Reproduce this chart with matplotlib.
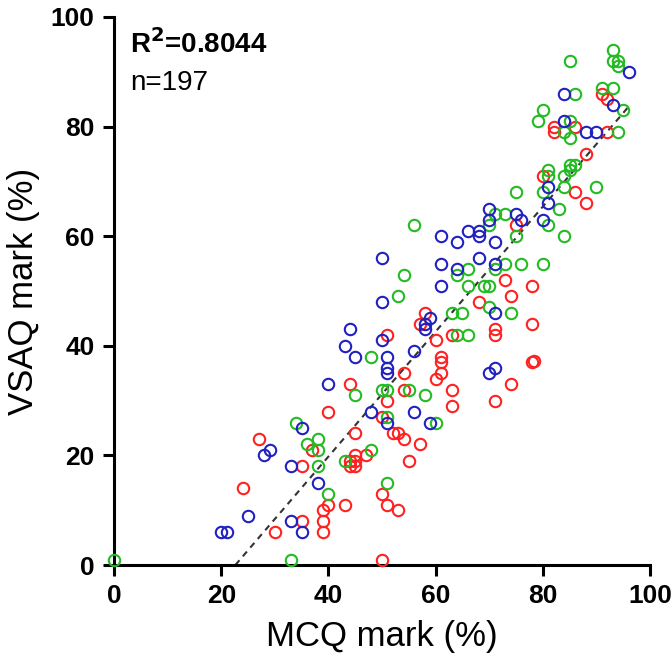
import numpy as np
import matplotlib
matplotlib.use("Agg")
from matplotlib import pyplot as plt

plt.rcParams['font.family'] = ['Liberation Sans', 'DejaVu Sans']

# MCQ mark (x) and VSAQ mark (y) for each group
blue_x = [20, 21, 25, 28, 29, 33, 33, 35, 35, 38, 40, 43, 44, 45, 48, 50, 50, 50, 51, 51,
          51, 51, 56, 56, 58, 58, 59, 59, 61, 61, 61, 64, 64, 66, 68, 68, 68, 70, 70, 70,
          71, 71, 71, 71, 75, 76, 80, 81, 81, 84, 84, 88, 90, 93, 96]
blue_y = [6, 6, 9, 20, 21, 18, 8, 6, 25, 15, 33, 40, 43, 38, 28, 56, 48, 41, 38, 36,
          35, 26, 39, 28, 43, 44, 45, 26, 60, 55, 51, 59, 54, 61, 61, 60, 56, 65, 63, 35,
          59, 55, 46, 36, 64, 63, 63, 69, 66, 86, 81, 79, 79, 84, 90]

red_x = [24, 27, 30, 35, 35, 37, 39, 39, 39, 40, 40, 43, 44, 44, 45, 44, 45, 45, 47, 45,
         50, 50, 50, 51, 51, 51, 52, 53, 53, 54, 54, 54, 55, 57, 57, 58, 60, 60, 61, 61,
         61, 63, 63, 63, 68, 71, 71, 71, 73, 74, 74, 75, 78, 78, 78, 78.3, 80, 82, 82, 86,
         86, 88, 88, 91, 92, 92]
red_y = [14, 23, 6, 18, 8, 21, 10, 8, 6, 28, 11, 11, 33, 19, 19, 18, 18, 20, 20, 24,
         27, 13, 1, 42, 30, 11, 24, 24, 10, 35, 32, 23, 19, 44, 22, 46, 41, 34, 38, 37,
         35, 42, 32, 29, 48, 43, 42, 30, 52, 49, 33, 62, 51, 44, 37, 37.3, 71, 80, 79, 80,
         68, 75, 66, 86, 85, 79]

green_x = [0, 33, 34, 36, 38, 38, 38, 40, 43, 45, 48, 48, 50, 51, 51, 51, 53, 54, 55, 56,
           58, 60, 63, 64, 64, 65, 66, 66, 66, 69, 70, 70, 70, 71, 71, 73, 73, 74, 75, 75,
           76, 79, 80, 80, 80, 81, 81, 81, 83, 84, 84, 84, 84, 85, 85, 85, 85, 85, 86, 86,
           90, 91, 93, 93, 93, 94, 94, 94, 95]
green_y = [1, 1, 26, 22, 23, 21, 18, 13, 19, 31, 38, 21, 32, 32, 27, 15, 49, 53, 32, 62,
           31, 26, 46, 53, 42, 46, 54, 51, 42, 51, 51, 62, 47, 64, 54, 64, 55, 46, 68, 60,
           55, 81, 83, 68, 55, 72, 71, 62, 65, 79, 71, 69, 60, 92, 81, 78, 73, 72, 86, 73,
           69, 87, 94, 92, 87, 92, 91, 79, 83]

# regression line as shown on the chart
fit_slope = 1.14
fit_intercept = -25.8

r2_text = "0.8044"
n_text = "197"

fig = plt.figure(figsize=(6.71, 6.63), dpi=100)
ax = fig.add_axes([0.170, 0.1478, 0.7988, 0.8266])

for xs, ys, col in [(red_x, red_y, '#ff2020'), (green_x, green_y, '#22bb22'), (blue_x, blue_y, '#2020c0')]:
    ax.plot(xs, ys, 'o', mfc='none', mec=col, mew=1.5, ms=8.2, clip_on=False, zorder=3)

all_x = np.array(blue_x + red_x + green_x, dtype=float)
x0 = -fit_intercept / fit_slope
x1 = all_x.max()
ax.plot([x0, x1], [fit_slope * x0 + fit_intercept, fit_slope * x1 + fit_intercept],
        color='#333333', lw=1.5, dashes=(3, 2.5), zorder=2)

ax.set_xlim(0, 100)
ax.set_ylim(0, 100)
ax.set_xticks([0, 20, 40, 60, 80, 100])
ax.set_yticks([0, 20, 40, 60, 80, 100])
for s in ['top', 'right']:
    ax.spines[s].set_visible(False)
for s in ['left', 'bottom']:
    ax.spines[s].set_linewidth(2.2)
ax.tick_params(width=2.2, length=8, labelsize=19, pad=6)
for lab in ax.get_xticklabels() + ax.get_yticklabels():
    lab.set_fontweight('bold')

ax.set_xlabel('MCQ mark (%)', fontsize=25, labelpad=8)
ax.set_ylabel('VSAQ mark (%)', fontsize=25, labelpad=8)

ax.text(3, 93.4, r'R$^\mathbf{2}$=' + r2_text, fontsize=20, fontweight='bold', va='baseline')
ax.text(3, 86.6, 'n=' + n_text, fontsize=20, va='baseline')

fig.savefig('out.png', dpi=100)
